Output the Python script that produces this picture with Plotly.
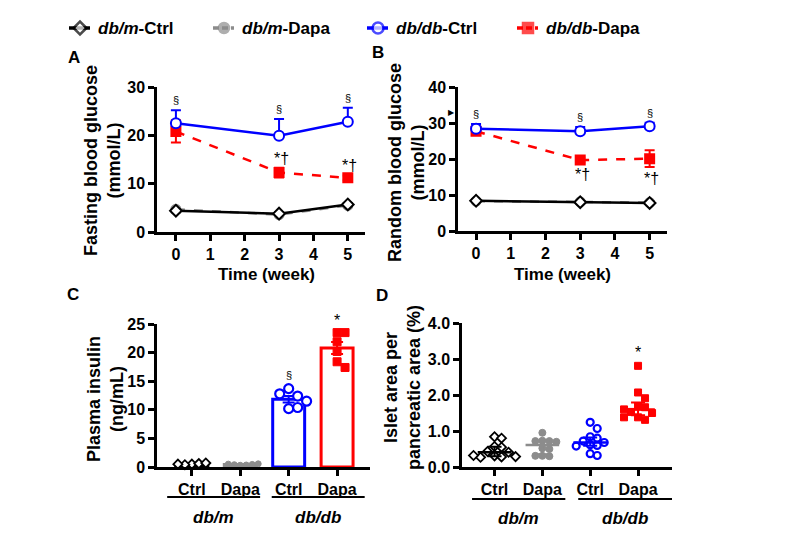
import numpy as np
import plotly.graph_objects as go

FONT = "Liberation Sans"

# --- panel A: fasting blood glucose (mmol/L), mean and SEM ---
weeks = [0, 3, 5]
fbg_dbm_ctrl = [4.4, 3.8, 5.7]
fbg_dbm_ctrl_sem = [0.3, 0.3, 0.3]
fbg_dbm_dapa = [4.7, 3.6, 5.5]
fbg_dbm_dapa_sem = [0.3, 0.3, 0.3]
fbg_dbdb_ctrl = [22.5, 19.9, 22.8]
fbg_dbdb_ctrl_sem = [2.7, 3.5, 2.9]
fbg_dbdb_dapa = [20.8, 12.3, 11.2]
fbg_dbdb_dapa_sem = [2.3, 1.0, 0.5]

# --- panel B: random blood glucose (mmol/L) ---
rbg_dbm_ctrl = [8.4, 8.0, 7.8]
rbg_dbm_ctrl_sem = [0.3, 0.3, 0.3]
rbg_dbm_dapa = [8.3, 8.1, 7.9]
rbg_dbm_dapa_sem = [0.3, 0.3, 0.3]
rbg_dbdb_ctrl = [28.4, 27.7, 29.1]
rbg_dbdb_ctrl_sem = [1.3, 1.2, 1.0]
rbg_dbdb_dapa = [27.7, 19.7, 20.1]
rbg_dbdb_dapa_sem = [0.8, 0.7, 2.3]

# --- panel C: plasma insulin (ng/mL), single animals ---
ins_dbm_ctrl = [0.5, 0.6, 0.4, 0.7, 0.5]
ins_dbm_dapa = [0.3, 0.35, 0.4, 0.45, 0.5, 0.55]
ins_dbdb_ctrl = [13.7, 12.4, 12.8, 10.2, 10.4, 11.5]
ins_dbdb_dapa = [23.5, 23.5, 21.9, 20.2, 18.4, 17.4]

# --- panel D: islet area per pancreatic area (%) ---
islet_dbm_ctrl = [0.84, 0.80, 0.57, 0.55, 0.43, 0.41, 0.31, 0.28, 0.27, 0.29, 0.32]
islet_dbm_dapa = [0.95, 0.73, 0.72, 0.72, 0.70, 0.52, 0.50, 0.31, 0.30, 0.31]
islet_dbdb_ctrl = [1.24, 1.07, 0.84, 0.80, 0.72, 0.68, 0.62, 0.60, 0.58, 0.37, 0.32]
islet_dbdb_dapa = [2.81, 2.07, 1.91, 1.68, 1.66, 1.53, 1.50, 1.60, 1.38, 1.31, 1.38]

group_ticks = ["Ctrl", "Dapa", "Ctrl", "Dapa"]
legend_names = ["<i>db/m</i>-Ctrl", "<i>db/m</i>-Dapa", "<i>db/db</i>-Ctrl", "<i>db/db</i>-Dapa"]
keys = ["dbm_ctrl", "dbm_dapa", "dbdb_ctrl", "dbdb_dapa"]

BLACK, GRAY, BLUE, RED = "black", "#8c8c8c", "#0000ff", "#ff0000"
OFF = 8  # the page body adds an 8 px margin


def px(x):
	return (x - OFF) / 800


def py(y):
	return 1 - (y - OFF) / 559


def swarm(vals, dy, dx):
	# simple beeswarm: push points sideways until they stop overlapping
	placed = []
	offs = []
	for v in vals:
		for k in [0, 1, -1, 2, -2, 3, -3, 4, -4, 5, -5]:
			if all((k - pk) ** 2 + ((v - pv) / dy) ** 2 >= 0.9 for pk, pv in placed):
				break
		placed.append((k, v))
		offs.append(k * dx)
	return offs


line_styles = {
	"dbm_ctrl": dict(color=BLACK, dash="solid", symbol="diamond", fill="white", size=9),
	"dbm_dapa": dict(color=GRAY, dash="dash", symbol="circle", fill=GRAY, size=9),
	"dbdb_ctrl": dict(color=BLUE, dash="solid", symbol="circle", fill="white", size=10),
	"dbdb_dapa": dict(color=RED, dash="dash", symbol="square", fill=RED, size=9),
}

fig = go.Figure()


def add_course(key, mean, sem, xa, ya, up_only=False):
	s = line_styles[key]
	err = dict(type="data", array=sem, symmetric=False,
			   arrayminus=[0] * len(sem) if up_only else sem,
			   color=s["color"], thickness=2, width=5)
	fig.add_trace(go.Scatter(
		x=weeks, y=mean, mode="lines+markers", showlegend=False,
		line=dict(color=s["color"], width=2.5, dash=s["dash"]),
		marker=dict(symbol=s["symbol"], size=s["size"], color=s["fill"],
					line=dict(color=s["color"], width=2)),
		error_y=err, xaxis=xa, yaxis=ya, cliponaxis=False))


# draw order: grey behind black, red behind blue
add_course("dbm_dapa", fbg_dbm_dapa, fbg_dbm_dapa_sem, "x", "y")
add_course("dbm_ctrl", fbg_dbm_ctrl, fbg_dbm_ctrl_sem, "x", "y")
add_course("dbdb_dapa", fbg_dbdb_dapa, fbg_dbdb_dapa_sem, "x", "y")
add_course("dbdb_ctrl", fbg_dbdb_ctrl, fbg_dbdb_ctrl_sem, "x", "y", up_only=True)

add_course("dbm_dapa", rbg_dbm_dapa, rbg_dbm_dapa_sem, "x2", "y2")
add_course("dbm_ctrl", rbg_dbm_ctrl, rbg_dbm_ctrl_sem, "x2", "y2")
add_course("dbdb_dapa", rbg_dbdb_dapa, rbg_dbdb_dapa_sem, "x2", "y2")
add_course("dbdb_ctrl", rbg_dbdb_ctrl, rbg_dbdb_ctrl_sem, "x2", "y2", up_only=True)

# legend row, drawn by hand on a hidden pixel-scaled axis
legend_x = [80, 224, 378, 528]
for key, cx in zip(keys, legend_x):
	s = line_styles[key]
	fig.add_trace(go.Scatter(
		x=[cx - 11, cx, cx + 10], y=[28, 28, 28], mode="lines+markers", showlegend=False,
		line=dict(color=s["color"], width=3.5, dash=s["dash"] if s["dash"] == "solid" else "6px,3px"),
		marker=dict(symbol=s["symbol"], size=[0, s["size"] + 1, 0], color=s["fill"],
					line=dict(color=s["color"], width=2.5)),
		xaxis="x5", yaxis="y5", hoverinfo="skip"))

# panel C: bars (mean +/- SEM) with dots
ins_groups = [ins_dbm_ctrl, ins_dbm_dapa, ins_dbdb_ctrl, ins_dbdb_dapa]
dot_styles = [
	dict(symbol="diamond", size=7, color="white", line=dict(color=BLACK, width=1.8)),
	dict(symbol="circle", size=6, color=GRAY, line=dict(color=GRAY, width=1)),
	dict(symbol="circle", size=9, color="white", line=dict(color=BLUE, width=2.2)),
	dict(symbol="square", size=8, color=RED, line=dict(color=RED, width=1)),
]
group_colors = [BLACK, GRAY, BLUE, RED]
for i, vals in enumerate(ins_groups):
	v = np.array(vals)
	fig.add_trace(go.Bar(
		x=[i], y=[v.mean()], width=0.66, showlegend=False,
		marker=dict(color="white", line=dict(color=group_colors[i], width=3)),
		error_y=dict(type="data", array=[v.std(ddof=1) / np.sqrt(len(v))],
					 color=group_colors[i], thickness=2, width=6),
		xaxis="x3", yaxis="y3"))
for i, vals in enumerate(ins_groups):
	size = dot_styles[i]["size"]
	offs = swarm(vals, dy=size / 5.7, dx=size / 48.6)
	fig.add_trace(go.Scatter(
		x=[i + o for o in offs], y=vals, mode="markers", showlegend=False,
		marker=dot_styles[i], xaxis="x3", yaxis="y3", cliponaxis=False))

# panel D: scatter with median and interquartile range
islet_groups = [islet_dbm_ctrl, islet_dbm_dapa, islet_dbdb_ctrl, islet_dbdb_dapa]
for i, vals in enumerate(islet_groups):
	offs = swarm(vals, dy=7 / 35.8, dx=7 / 47.8)
	st = dict(dot_styles[i])
	st["size"] = 7
	fig.add_trace(go.Scatter(
		x=[i + o for o in offs], y=vals, mode="markers", showlegend=False,
		marker=st, xaxis="x4", yaxis="y4", cliponaxis=False))
	med = float(np.median(vals))
	q1, q3 = np.percentile(vals, [25, 75])
	fig.add_trace(go.Scatter(
		x=[i], y=[med], mode="markers", showlegend=False,
		marker=dict(symbol="line-ew", size=24, line=dict(color=group_colors[i], width=2.5)),
		error_y=dict(type="data", symmetric=False, array=[q3 - med], arrayminus=[med - q1],
					 color=group_colors[i], thickness=2, width=7),
		xaxis="x4", yaxis="y4"))

tick_font = dict(family=FONT, size=16, color="black", weight="bold")
axis_common = dict(showline=True, linewidth=2.5, linecolor="black", ticks="outside",
				   ticklen=6, tickwidth=2.5, tickcolor="black", showgrid=False,
				   zeroline=False, tickfont=tick_font, automargin=False)

fig.update_layout(
	xaxis=dict(domain=[px(157), px(365)], range=[-0.55, 5.5], tickvals=[0, 1, 2, 3, 4, 5],
			   anchor="y", **axis_common),
	yaxis=dict(domain=[py(232), py(87)], range=[0, 30], tickvals=[0, 10, 20, 30],
			   anchor="x", **axis_common),
	xaxis2=dict(domain=[px(458), px(667)], range=[-0.52, 5.5], tickvals=[0, 1, 2, 3, 4, 5],
				anchor="y2", **axis_common),
	yaxis2=dict(domain=[py(231), py(87)], range=[0, 40], tickvals=[0, 10, 20, 30, 40],
				anchor="x2", **axis_common),
	xaxis3=dict(domain=[px(157), px(370)], range=[-0.72, 3.68], tickvals=[0, 1, 2, 3],
				ticktext=group_ticks, anchor="y3", **axis_common),
	yaxis3=dict(domain=[py(467), py(324)], range=[0, 25], tickvals=[0, 5, 10, 15, 20, 25],
				anchor="x3", **axis_common),
	xaxis4=dict(domain=[px(462), px(672)], range=[-0.68, 3.71], tickvals=[0, 1, 2, 3],
				ticktext=group_ticks, anchor="y4", **axis_common),
	yaxis4=dict(domain=[py(467), py(323)], range=[0, 4], tickvals=[0, 1, 2, 3, 4],
				tickformat=".1f", anchor="x4", **axis_common),
	xaxis5=dict(domain=[0, 1], range=[OFF, 800 + OFF], visible=False, fixedrange=True, anchor="y5"),
	yaxis5=dict(domain=[0, 1], range=[559 + OFF, OFF], visible=False, fixedrange=True, anchor="x5"),
	barmode="overlay",
	showlegend=False,
	width=800, height=559,
	margin=dict(l=0, r=0, t=0, b=0, autoexpand=False),
	plot_bgcolor="rgba(0,0,0,0)", paper_bgcolor="white",
	font=dict(family=FONT, color="black"),
)

ann = []


def text(x, y, s, size=16, angle=0, xanchor="center"):
	ann.append(dict(x=x, y=y, xref="paper", yref="paper", text=s, showarrow=False,
					textangle=angle, xanchor=xanchor, yanchor="middle",
					font=dict(family=FONT, size=size, color="black", weight="bold")))


# legend labels
for name, cx in zip(legend_names, legend_x):
	text(px(cx + 16), py(28), name, 17, xanchor="left")

# panel letters
text(px(74), py(57), "A", 17)
text(px(378), py(53), "B", 17)
text(px(73), py(294), "C", 17)
text(px(382), py(295), "D", 17)

# axis titles
text(px(102), py(161), "Fasting blood glucose<br>(mmol/L)", 18, -90)
text(px(407), py(163), "Random blood glucose<br>(mmol/L)", 18, -90)
text(px(105), py(399), "Plasma insulin<br>(ng/mL)", 18, -90)
text(px(402), py(388), "Islet area per<br>pancreatic area (%)", 18, -90)
text(px(266), py(274), "Time (week)", 17)
text(px(562), py(274), "Time (week)", 17)

# group brackets under panels C and D
brackets = [("x3", py(497), py(517), [(-0.51, 1.41), (1.65, 3.57)]),
			("x4", py(499), py(518), [(-0.47, 1.48), (1.75, 3.71)])]
for xa, y_line, y_lab, spans in brackets:
	for (a, b), lab in zip(spans, ["<i>db/m</i>", "<i>db/db</i>"]):
		fig.add_shape(type="line", xref=xa, yref="paper", x0=a, x1=b, y0=y_line, y1=y_line,
					  line=dict(color="black", width=2))
		ann.append(dict(x=(a + b) / 2, y=y_lab, xref=xa, yref="paper", text=lab, showarrow=False,
						xanchor="center", yanchor="middle",
						font=dict(family=FONT, size=17, color="black", weight="bold")))

# significance marks
sig_font = dict(family=FONT, size=11, color="black")
star_font = dict(family=FONT, size=16, color="black")
for xa, ya, mean, sem in [("x", "y", fbg_dbdb_ctrl, fbg_dbdb_ctrl_sem), ("x2", "y2", rbg_dbdb_ctrl, rbg_dbdb_ctrl_sem)]:
	for w, m, s in zip(weeks, mean, sem):
		ann.append(dict(x=w, y=m + s, xref=xa, yref=ya, text="§", showarrow=False,
						yanchor="bottom", yshift=2, font=sig_font))
for w, m, s in zip(weeks[1:], fbg_dbdb_dapa[1:], fbg_dbdb_dapa_sem[1:]):
	ann.append(dict(x=w, y=m + s, xref="x", yref="y", text="*†", showarrow=False,
					yanchor="bottom", yshift=-1, xshift=2, font=star_font))
for w, m, s in zip(weeks[1:], rbg_dbdb_dapa[1:], rbg_dbdb_dapa_sem[1:]):
	ann.append(dict(x=w, y=m - s, xref="x2", yref="y2", text="*†", showarrow=False,
					yanchor="top", yshift=-1, xshift=2, font=star_font))
ann.append(dict(x=2, y=max(ins_dbdb_ctrl), xref="x3", yref="y3", text="§", showarrow=False,
				yanchor="bottom", yshift=6, font=sig_font))
ann.append(dict(x=3, y=max(ins_dbdb_dapa), xref="x3", yref="y3", text="*", showarrow=False,
				yanchor="bottom", yshift=2, font=star_font))
ann.append(dict(x=3, y=max(islet_dbdb_dapa), xref="x4", yref="y4", text="*", showarrow=False,
				yanchor="bottom", yshift=3, font=star_font))
# small arrowhead left of panel B axis
ann.append(dict(x=0, y=33, xref="x2 domain", yref="y2", text="▶", showarrow=False,
				xanchor="right", yanchor="middle", xshift=-1,
				font=dict(family="DejaVu Sans", size=8, color="black")))

fig.update_layout(annotations=ann)

fig.write_html("out.html")
